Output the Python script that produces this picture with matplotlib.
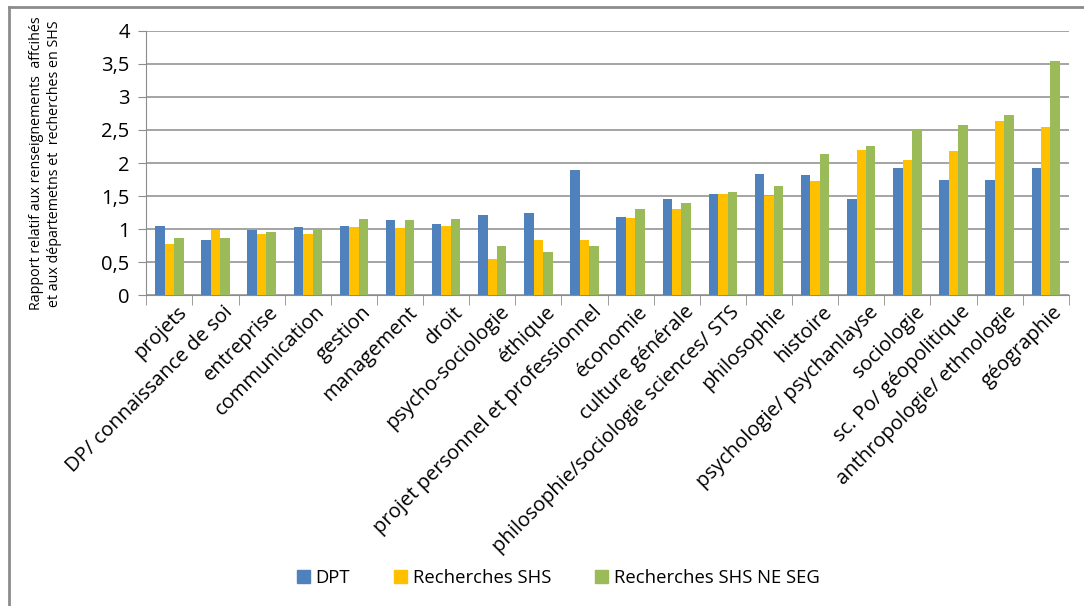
import numpy as np
import matplotlib
matplotlib.use("Agg")
import matplotlib.pyplot as plt
from matplotlib.lines import Line2D
from matplotlib.ticker import FuncFormatter, FixedLocator

plt.rcParams['font.family'] = ['Open Sans', 'DejaVu Sans']

# Data
categories = [
    "projets", "DP/ connaissance de soi", "entreprise", "communication",
    "gestion", "management", "droit", "psycho-sociologie", "éthique",
    "projet personnel et professionnel", "économie", "culture générale",
    "philosophie/sociologie sciences/ STS", "philosophie", "histoire",
    "psychologie/ psychanlayse", "sociologie", "sc. Po/ géopolitique",
    "anthropologie/ ethnologie", "géographie",
]
dpt = [1.04, 0.84, 0.98, 1.03, 1.04, 1.13, 1.07, 1.21, 1.24, 1.90,
       1.18, 1.45, 1.53, 1.83, 1.82, 1.45, 1.92, 1.74, 1.74, 1.92]
rech_shs = [0.77, 0.98, 0.92, 0.92, 1.03, 1.01, 1.04, 0.55, 0.84, 0.84,
            1.16, 1.30, 1.53, 1.50, 1.73, 2.20, 2.05, 2.18, 2.63, 2.55]
rech_shs_ne_seg = [0.87, 0.87, 0.95, 1.00, 1.15, 1.13, 1.15, 0.75, 0.65, 0.75,
                   1.30, 1.40, 1.56, 1.65, 2.14, 2.26, 2.52, 2.58, 2.73, 3.54]
series_names = ["DPT", "Recherches SHS", "Recherches SHS NE SEG"]
colors = ["#4F81BD", "#FFC000", "#9BBB59"]

fig = plt.figure(figsize=(10.84, 6.06), dpi=100)
ax = fig.add_axes([0.135, 0.513, 0.851, 0.436])

x = np.arange(len(categories))
w = 0.205
for i, (vals, name, c) in enumerate(zip([dpt, rech_shs, rech_shs_ne_seg], series_names, colors)):
    ax.bar(x + (i - 1) * w, vals, width=w, color=c, label=name, zorder=3)

ax.set_xlim(-0.5, len(categories) - 0.5)
ax.set_ylim(0, 4)
ax.set_yticks(np.arange(0, 4.01, 0.5))
ax.yaxis.set_major_formatter(FuncFormatter(lambda v, p: ("%g" % v).replace(".", ",")))
ax.yaxis.grid(True, color="#8c8c8c", linewidth=1.1, zorder=0)

# category labels at centers, tick marks at boundaries
ax.set_xticks(x + 0.15)
ax.set_xticklabels(categories, rotation=45, ha="right", rotation_mode="anchor", fontsize=14.5)
ax.tick_params(axis="x", length=0, pad=5)
ax.xaxis.set_minor_locator(FixedLocator(np.arange(-0.5, len(categories), 1)))
ax.tick_params(axis="x", which="minor", length=7, color="#8c8c8c")
ax.tick_params(axis="y", length=6, color="#8c8c8c", labelsize=14.5, pad=6)

for s in ["top", "right"]:
    ax.spines[s].set_visible(False)
ax.spines["left"].set_color("#8c8c8c")
ax.spines["bottom"].set_color("#8c8c8c")

fig.text(0.042, 0.73, "Rapport relatif aux renseignements  affcihés\net aux départemetns et  recherches en SHS",
         rotation=90, ha="center", va="center", fontsize=10.3, linespacing=1.25)

handles = [plt.Rectangle((0, 0), 1, 1, color=c) for c in colors]
fig.legend(handles, series_names, loc="center", bbox_to_anchor=(0.515, 0.046), ncol=3,
           frameon=False, fontsize=13.3, handlelength=0.7, handleheight=0.7,
           handletextpad=0.3, columnspacing=2.4)

# outer frame lines (top and left)
fig.add_artist(Line2D([9 / 1084, 1], [1 - 7 / 606, 1 - 7 / 606], color="#8c8c8c", lw=2))
fig.add_artist(Line2D([9 / 1084, 9 / 1084], [0, 1 - 7 / 606], color="#8c8c8c", lw=2))

fig.savefig("out.png", dpi=100)
